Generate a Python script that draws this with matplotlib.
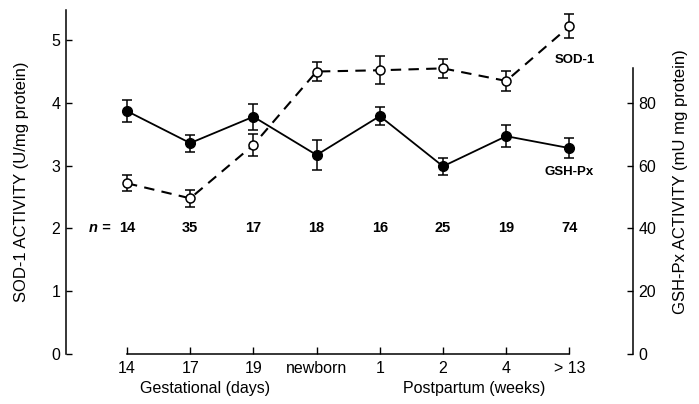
import matplotlib
matplotlib.use("Agg")
import matplotlib.pyplot as plt
import matplotlib.transforms as mtransforms

plt.rcParams['font.family'] = ['Liberation Sans', 'DejaVu Sans']

categories = ["14", "17", "19", "newborn", "1", "2", "4", "> 13"]
n_values = ["14", "35", "17", "18", "16", "25", "19", "74"]
sod1 = [2.72, 2.48, 3.33, 4.50, 4.52, 4.55, 4.35, 5.22]
sod1_err = [0.13, 0.14, 0.17, 0.15, 0.22, 0.15, 0.16, 0.19]
gshpx = [77.4, 67.2, 75.6, 63.4, 75.8, 59.8, 69.4, 65.6]
gshpx_err = [3.4, 2.7, 4.2, 4.8, 2.8, 2.7, 3.6, 3.2]
left_ticks = [0, 1, 2, 3, 4, 5]
right_ticks = [0, 20, 40, 60, 80]

x = list(range(len(categories)))

fig = plt.figure(figsize=(6.99, 4.04), dpi=100)
ax = fig.add_axes([66/699, 50/404, (633-66)/699, 344/404])
ax2 = ax.twinx()

ytop = 5.48
ax.set_ylim(0, ytop)
ax2.set_ylim(0, ytop * 20)
ax.set_xlim(-0.965, 8.006)

# GSH-Px on right axis
ax2.errorbar(x, gshpx, yerr=gshpx_err, fmt='-o', color='black', lw=1.3,
             ms=7, mfc='black', mec='black', capsize=3.5, elinewidth=1.1,
             capthick=1.1, zorder=3)
# SOD-1 on left axis
ax.errorbar(x, sod1, yerr=sod1_err, fmt='o', linestyle=(0, (5, 3.5)), color='black',
            lw=1.5, ms=6.5, mfc='white', mec='black', mew=1.1, capsize=3.5,
            elinewidth=1.1, capthick=1.1, zorder=4)
ax.set_zorder(ax2.get_zorder() + 1)
ax.patch.set_visible(False)

# Spines
for a in (ax, ax2):
    a.spines['top'].set_visible(False)
ax.spines['right'].set_visible(False)
ax2.spines['left'].set_visible(False)
ax2.spines['bottom'].set_visible(False)
ax.spines['left'].set_bounds(0, ytop)
ax.spines['bottom'].set_bounds(0, 7)
ax2.spines['right'].set_bounds(0, 91)
for s in (ax.spines['left'], ax.spines['bottom'], ax2.spines['right']):
    s.set_linewidth(1.1)

ax.set_yticks(left_ticks)
ax2.set_yticks(right_ticks)
ax.set_xticks(x)
ax.set_xticklabels(categories)
ax.tick_params(axis='y', direction='in', length=4, width=1, labelsize=11.5, pad=4)
ax.tick_params(axis='x', direction='in', length=5, width=1, labelsize=11.5, pad=5)
ax2.tick_params(axis='y', direction='in', length=4, width=1, labelsize=11.5, pad=4)

ax.set_ylabel("SOD-1 ACTIVITY (U/mg protein)", fontsize=12, labelpad=16)
ax2.set_ylabel("GSH-Px ACTIVITY (mU mg protein)", fontsize=12, labelpad=12)

# n row
for xi, nv in zip(x, n_values):
    ax.text(xi, 2.0, nv, ha='center', va='center', fontsize=10.5, fontweight='bold')
ax.text(-0.43, 2.0, "n =", ha='center', va='center', fontsize=10.5,
        fontweight='bold', style='italic')

# series labels
ax.text(7.09, 4.68, "SOD-1", ha='center', va='center', fontsize=9.5, fontweight='bold')
ax.text(7.0, 2.90, "GSH-Px", ha='center', va='center', fontsize=9.5, fontweight='bold')

# group labels
trans = mtransforms.blended_transform_factory(ax.transData, fig.transFigure)
ax.text(1.23, 16/404, "Gestational (days)", transform=trans, ha='center',
        va='center', fontsize=11.5)
ax.text(5.5, 16/404, "Postpartum (weeks)", transform=trans, ha='center',
        va='center', fontsize=11.5)

fig.savefig("out.png", dpi=100)
